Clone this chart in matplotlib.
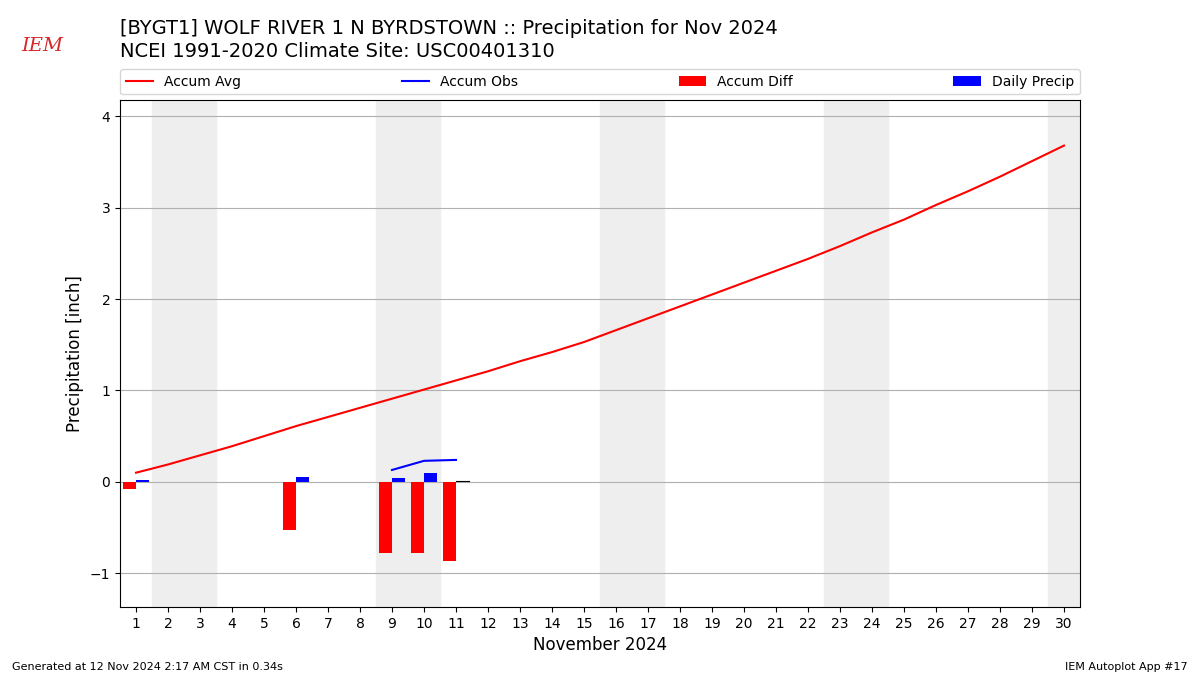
import numpy as np
import matplotlib
matplotlib.use("Agg")
import matplotlib.pyplot as plt

days = np.arange(1, 31)

# accumulated climatology, inch
accum_avg = [0.10, 0.19, 0.29, 0.39, 0.50, 0.61, 0.71, 0.81, 0.91, 1.01,
             1.11, 1.21, 1.32, 1.42, 1.53, 1.66, 1.79, 1.92, 2.05, 2.18,
             2.31, 2.44, 2.58, 2.73, 2.87, 3.03, 3.18, 3.34, 3.51, 3.68]

# observed accumulation (missing days left as NaN)
nan = np.nan
accum_obs = [0.02, nan, nan, nan, nan, 0.08, nan, nan, 0.13, 0.23,
             0.24] + [nan] * 19

# daily observed precip
daily_precip = [0.02, nan, nan, nan, nan, 0.055, nan, nan, 0.04, 0.10,
                0.01] + [nan] * 19

accum_obs = np.array(accum_obs)
accum_diff = accum_obs - np.array(accum_avg)

weekends = [(2, 3), (9, 10), (16, 17), (23, 24), (30, 31)]

fig = plt.figure(figsize=(12, 6.75), dpi=100)
ax = fig.add_axes([0.1, 0.1007, 0.8, 0.7513])

for a, b in weekends:
    ax.axvspan(a - 0.5, b + 0.5, color="#EEEEEE", zorder=0)

ax.plot(days, accum_avg, color="r", label="Accum Avg", zorder=3)
ax.plot(days, accum_obs, color="b", label="Accum Obs", zorder=3)
ax.bar(days, accum_diff, width=-0.4, align="edge", color="r",
       label="Accum Diff", zorder=2)
ax.bar(days, daily_precip, width=0.4, align="edge", color="b",
       label="Daily Precip", zorder=2)
# tiny trace marker on day 11
ax.plot([11, 11.4], [0.005, 0.005], color="k", lw=0.8, zorder=3)

ax.set_xlim(0.5, 30.5)
ax.set_ylim(-1.37, 4.18)
ax.set_xticks(days)
ax.set_yticks([-1, 0, 1, 2, 3, 4])
ax.grid(axis="y", color="#b0b0b0", zorder=1)
ax.set_axisbelow(True)
ax.set_xlabel("November 2024", fontsize=12)
ax.set_ylabel("Precipitation [inch]", fontsize=12)

ax.legend(loc="lower left", bbox_to_anchor=(0, 1.011, 1, 0.1), ncol=4,
          mode="expand", borderaxespad=0, fontsize=10)

fig.text(0.1, 0.943, "[BYGT1] WOLF RIVER 1 N BYRDSTOWN :: Precipitation for Nov 2024",
         fontsize=14, va="bottom")
fig.text(0.1, 0.91, "NCEI 1991-2020 Climate Site: USC00401310",
         fontsize=14, va="bottom")

fig.text(0.01, 0.008, "Generated at 12 Nov 2024 2:17 AM CST in 0.34s", fontsize=8)
fig.text(0.99, 0.008, "IEM Autoplot App #17", fontsize=8, ha="right")
fig.text(0.018, 0.925, "IEM", fontsize=14, color="#d62728", family="serif",
         style="italic")

fig.savefig("out.png", dpi=100)
